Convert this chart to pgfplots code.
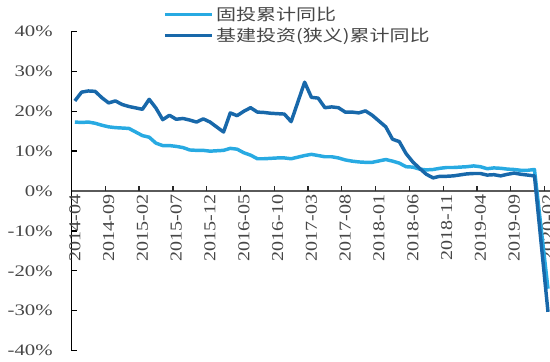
\documentclass[border=0pt]{standalone}
\usepackage{fontspec}
\usepackage{pgfplots}
\pgfplotsset{compat=1.18}
\setmainfont{Liberation Serif}
\newfontfamily\yfont[FakeStretch=1.3]{Liberation Serif}
\newfontfamily\xfont[FakeStretch=1.2]{Liberation Serif}
\newfontfamily\cjk[FakeStretch=1.25]{Noto Sans CJK SC}
\definecolor{lightb}{RGB}{40,170,226}
\definecolor{darkb}{RGB}{24,104,170}
\definecolor{txt}{RGB}{70,70,70}
\begin{document}
\begin{tikzpicture}
\begin{axis}[
  name=ax,
  scale only axis,
  width=358.9pt, height=239.25pt,
  xmin=-0.5, xmax=70.3,
  ymin=-40, ymax=40,
  axis x line*=middle,
  axis y line*=left,
  x axis line style={draw={rgb,255:red,90;green,90;blue,90}, line width=1.5pt},
  y axis line style={draw=black, line width=1.1pt},
  tick align=inside,
  major tick length=4pt,
  ytick={-40,-30,...,40},
  yticklabels={-40\%,-30\%,-20\%,-10\%,0\%,10\%,20\%,30\%,40\%},
  ytick style={draw=black, line width=1pt},
  yticklabel style={font=\yfont\fontsize{12}{14}\selectfont, text=txt, anchor=east, inner sep=0pt, xshift=-13.9pt},
  xtick={0,5,...,70},
  xticklabels={2014-04,2014-09,2015-02,2015-07,2015-12,2016-05,2016-10,2017-03,2017-08,2018-01,2018-06,2018-11,2019-04,2019-09,2020-02},
  xtick style={draw=none},
  xticklabel style={font=\xfont\fontsize{12.5}{14}\selectfont, text=txt, rotate=90, anchor=east, inner sep=0pt},
  xticklabel shift=2.5pt,
  extra x ticks={4.5,9.5,...,69.5},
  extra x tick labels={},
  extra x tick style={xtick style={draw={rgb,255:red,40;green,40;blue,40}, line width=1pt}},
  legend style={draw=none, fill=none, font=\cjk\fontsize{12}{14}\selectfont, text=txt,
    at={(0.1912,1.086)}, anchor=north west, legend cell align=left, row sep=0pt, inner sep=0pt},
  legend image code/.code={\draw[#1] (0pt,0pt) -- (35pt,0pt);},
  clip=false,
]
\addplot[lightb, line width=2.6pt, line join=round] coordinates {
(0,17.3)(1,17.2)(2,17.3)(3,17.0)(4,16.5)(5,16.1)(6,15.9)(7,15.8)(8,15.7)(10,13.9)(11,13.5)(12,12.0)(13,11.4)(14,11.4)(15,11.2)(16,10.9)(17,10.3)(18,10.2)(19,10.2)(20,10.0)(22,10.2)(23,10.7)(24,10.5)(25,9.6)(26,9.0)(27,8.1)(28,8.1)(29,8.2)(30,8.3)(31,8.3)(32,8.1)(34,8.9)(35,9.2)(36,8.9)(37,8.6)(38,8.6)(39,8.3)(40,7.8)(41,7.5)(42,7.3)(43,7.2)(44,7.2)(46,7.9)(47,7.5)(48,7.0)(49,6.1)(50,6.0)(51,5.5)(52,5.3)(53,5.4)(54,5.7)(55,5.9)(56,5.9)(58,6.1)(59,6.3)(60,6.1)(61,5.6)(62,5.8)(63,5.7)(64,5.5)(65,5.4)(66,5.2)(67,5.2)(68,5.4)(70,-24.5)
};
\addlegendentry{固投累计同比}
\addplot[darkb, line width=2.6pt, line join=round] coordinates {
(0,22.6)(1,24.8)(2,25.1)(3,25.0)(4,23.4)(5,22.1)(6,22.6)(7,21.7)(8,21.2)(10,20.5)(11,23.0)(12,20.8)(13,17.9)(14,19.0)(15,18.0)(16,18.2)(17,17.8)(18,17.3)(19,18.1)(20,17.3)(22,14.8)(23,19.6)(24,18.9)(25,20.0)(26,20.9)(27,19.8)(28,19.7)(29,19.5)(30,19.4)(31,19.3)(32,17.4)(34,27.3)(35,23.5)(36,23.3)(37,20.9)(38,21.1)(39,20.9)(40,19.8)(41,19.8)(42,19.6)(43,20.1)(44,19.0)(46,16.1)(47,13.0)(48,12.4)(49,9.4)(50,7.3)(51,5.7)(52,4.2)(53,3.3)(54,3.7)(55,3.7)(56,3.8)(58,4.3)(59,4.4)(60,4.4)(61,4.0)(62,4.1)(63,3.8)(64,4.2)(65,4.5)(66,4.2)(67,4.0)(68,3.8)(70,-30.3)
};
\addlegendentry{基建投资(狭义)累计同比}
\end{axis}
\pgfresetboundingbox
\path ([shift={(-53.6pt,-7.9pt)}]ax.south west) rectangle ([shift={(358.9pt,262.9pt)}]ax.south west);
\end{tikzpicture}
\end{document}
